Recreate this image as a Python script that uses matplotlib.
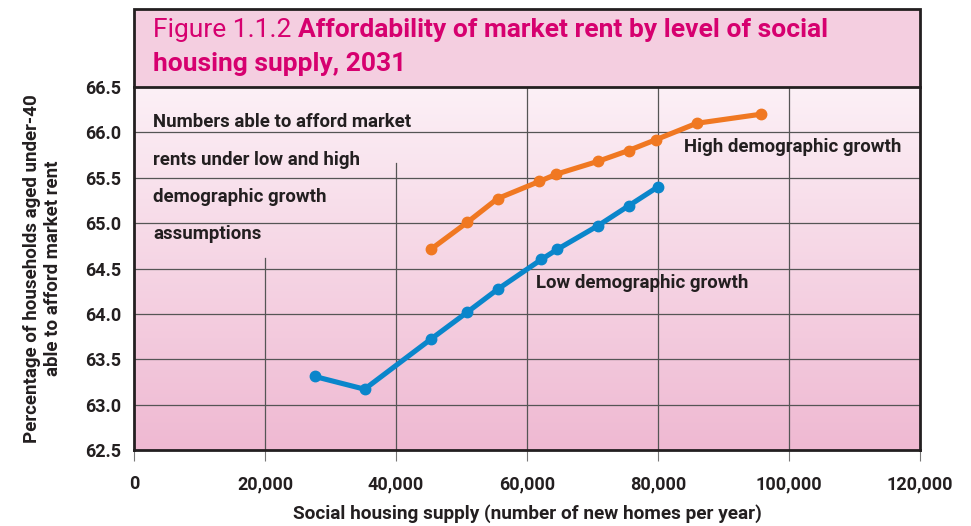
import numpy as np
import matplotlib
matplotlib.use('Agg')
import matplotlib.pyplot as plt
from matplotlib.colors import LinearSegmentedColormap
from matplotlib.patches import Rectangle

plt.rcParams['font.family'] = ['Roboto', 'DejaVu Sans']

# dane
low_x = [27600, 35200, 45300, 50900, 55500, 62200, 64600, 70800, 75500, 80000]
low_y = [63.31, 63.17, 63.72, 64.02, 64.27, 64.60, 64.71, 64.97, 65.19, 65.40]

high_x = [45300, 50900, 55500, 61900, 64500, 70800, 75500, 79700, 85900, 95700]
high_y = [64.71, 65.01, 65.27, 65.46, 65.54, 65.68, 65.80, 65.92, 66.10, 66.20]

x_ticks = [0, 20000, 40000, 60000, 80000, 100000, 120000]
y_ticks = [62.5, 63.0, 63.5, 64.0, 64.5, 65.0, 65.5, 66.0, 66.5]

note_lines = ['Numbers able to afford market', 'rents under low and high',
              'demographic growth', 'assumptions']

dark = '#231f20'
magenta = '#d6006f'
orange = '#f07822'
blue = '#0a86cb'

fig = plt.figure(figsize=(9.71, 5.26), dpi=100)
ax = fig.add_axes([134/971, 1-450/526, (920-134)/971, (450-87)/526])

# tło gradientowe
cmap = LinearSegmentedColormap.from_list('bg', ['#efb9d2', '#fcf0f6'])
grad = np.linspace(0, 1, 256).reshape(-1, 1)
ax.imshow(grad, extent=[0, 120000, 62.5, 66.5], origin='lower', aspect='auto',
          cmap=cmap, zorder=0)

ax.set_xlim(0, 120000)
ax.set_ylim(62.5, 66.5)

# siatka - dwie linie po lewej nie dochodzą do góry (tekst)
for y in y_ticks[1:-1]:
    ax.axhline(y, color='#555555', lw=0.9, zorder=1)
grid_top = {20000: 64.62, 40000: 65.66}
for x in x_ticks[1:-1]:
    ax.plot([x, x], [62.5, grid_top.get(x, 66.5)], color='#555555', lw=0.9, zorder=1)

ax.plot(low_x, low_y, color=blue, lw=3.7, marker='o', ms=7.5, zorder=3,
        solid_capstyle='round')
ax.plot(high_x, high_y, color=orange, lw=3.7, marker='o', ms=7.5, zorder=3,
        solid_capstyle='round')

ax.set_xticks(x_ticks)
ax.set_xticklabels([f'{v:,}' for v in x_ticks])
ax.set_yticks(y_ticks)
ax.set_yticklabels([f'{v:.1f}' for v in y_ticks])
ax.tick_params(axis='x', length=8, width=0.8, color='#777777', pad=10,
               labelsize=13, labelcolor=dark)
ax.tick_params(axis='y', length=0, pad=9, labelsize=13, labelcolor=dark)
for lab in ax.get_xticklabels() + ax.get_yticklabels():
    lab.set_fontweight('bold')

for s in ['left', 'right', 'bottom']:
    ax.spines[s].set_linewidth(2)
    ax.spines[s].set_color(dark)
ax.spines['top'].set_linewidth(1.2)
ax.spines['top'].set_color(dark)

ax.set_xlabel('Social housing supply (number of new homes per year)',
              fontsize=13.7, fontweight='bold', color=dark, labelpad=8)
ax.set_ylabel('Percentage of households aged under-40\nable to afford market rent',
              fontsize=13.5, fontweight='bold', color=dark, labelpad=17)

# opis w lewym górnym rogu, co 37 px
for i, line in enumerate(note_lines):
    ax.text(2900, 66.11 - i * 0.41, line, fontsize=13.4, fontweight='bold',
            color=dark, va='center', ha='left', zorder=2)
ax.text(84000, 65.84, 'High demographic growth', fontsize=13.4, fontweight='bold',
        color=dark, va='center', ha='left', zorder=4)
ax.text(61300, 64.34, 'Low demographic growth', fontsize=13.4, fontweight='bold',
        color=dark, va='center', ha='left', zorder=4)

# ramka tytułu
box = Rectangle((134/971, 1-87/526), (920-134)/971, 78/526, transform=fig.transFigure,
                facecolor='#f4cee0', edgecolor=dark, lw=2, zorder=0)
fig.patches.append(box)

t1 = fig.text(153/971, 1-30/526, 'Figure 1.1.2 ', fontsize=19, color=magenta,
              va='center', ha='left')
fig.canvas.draw()
bb = t1.get_window_extent(renderer=fig.canvas.get_renderer())
x_end = bb.x1 / fig.bbox.width
fig.text(x_end, 1-30/526, 'Affordability of market rent by level of social',
         fontsize=19, fontweight='bold', color=magenta, va='center', ha='left')
fig.text(153/971, 1-64/526, 'housing supply, 2031', fontsize=19,
         fontweight='bold', color=magenta, va='center', ha='left')

fig.savefig('out.png', dpi=100)
